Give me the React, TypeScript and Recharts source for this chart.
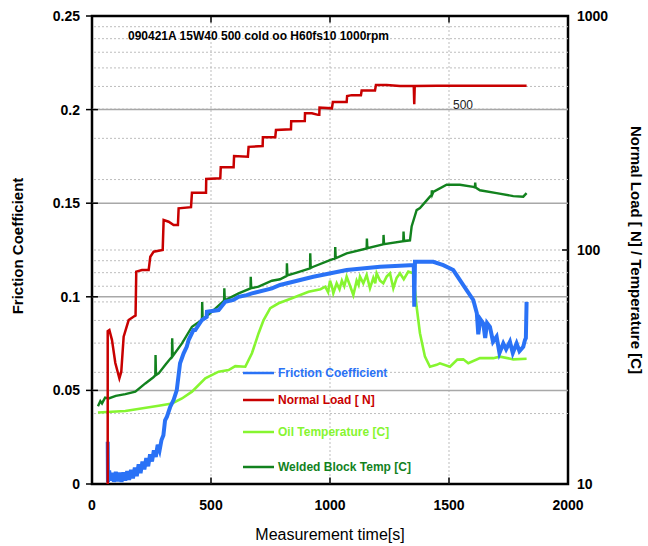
import React from 'react';
import { LineChart, Line, XAxis, YAxis, ReferenceLine, ReferenceArea } from 'recharts';

const FONT = '"Liberation Sans", Arial, Helvetica, sans-serif';

// axis ticks / grid
const timeTicks = [0, 500, 1000, 1500, 2000];
const frictionTicks = [0, 0.05, 0.1, 0.15, 0.2, 0.25];
const loadTicks = [10, 100, 1000];
const frictionGrid = [0.05, 0.1, 0.15, 0.2];
const logMinorGrid = [20, 30, 40, 50, 60, 70, 80, 90, 100, 200, 300, 400, 500, 600, 700, 800, 900];
const timeGrid = [500, 1000, 1500];

// series: [time s, value]
const frictionSeries: [number, number][] = [
  [66, 0.0226], [67, 0.001], [72, 0.0072], [78, 0.0018], [85, 0.006], [92, 0.0012],
  [100, 0.0065], [108, 0.0015], [116, 0.006], [124, 0.0012], [132, 0.0062], [140, 0.0018],
  [148, 0.0068], [156, 0.0022], [164, 0.0075], [172, 0.003], [180, 0.0088], [188, 0.0042],
  [196, 0.0105], [204, 0.0058], [212, 0.012], [220, 0.0078], [228, 0.0138], [236, 0.0095],
  [244, 0.0158], [252, 0.012], [260, 0.018], [268, 0.0145], [276, 0.021], [284, 0.018],
  [292, 0.0235], [300, 0.026], [307, 0.034], [315, 0.036], [328, 0.041], [343, 0.045],
  [356, 0.05], [370, 0.0645], [385, 0.0698], [398, 0.0733], [406, 0.0769], [426, 0.0822],
  [434, 0.0822], [462, 0.0876], [482, 0.0893], [483, 0.092], [532, 0.0929], [560, 0.0973],
  [594, 0.0983], [616, 0.1], [650, 0.1009], [672, 0.1018], [756, 0.1045], [790, 0.1063],
  [930, 0.1107], [1070, 0.1143], [1210, 0.116], [1336, 0.1169], [1352, 0.1169], [1354, 0.0947],
  [1357, 0.1187], [1434, 0.1187], [1476, 0.1169], [1518, 0.1143], [1546, 0.1089],
  [1574, 0.1036], [1602, 0.0983], [1617, 0.0912], [1623, 0.08], [1632, 0.088], [1644, 0.0858],
  [1652, 0.078], [1660, 0.086], [1672, 0.084], [1685, 0.076], [1700, 0.0787], [1712, 0.07],
  [1728, 0.0751], [1740, 0.072], [1756, 0.076], [1768, 0.07], [1784, 0.0751], [1796, 0.071],
  [1812, 0.0733], [1819, 0.0769], [1823, 0.078], [1826, 0.0973],
];

const loadSeries: [number, number][] = [
  [66, 10], [66, 45], [73, 45.5], [84, 41.2], [98, 32.9], [115, 28.3], [123, 30.2],
  [133, 42.6], [154, 50.2], [179, 52.2], [183, 52.5], [186, 80.8], [210, 82.1], [238, 82.1],
  [245, 93.6], [259, 98.3], [297, 100], [301, 134.4], [322, 132.1], [343, 127.9], [361, 127.9],
  [364, 150.7], [416, 152.4], [420, 175.8], [479, 175.8], [480, 201], [539, 202.5],
  [541, 225.6], [595, 225.6], [597, 252], [655, 250.5], [658, 276], [717, 278], [718, 303],
  [770, 303], [773, 326], [836, 328], [837, 355], [894, 356], [895, 384], [924, 384],
  [950, 378], [955, 378], [956, 406], [1008, 403], [1012, 429], [1070, 429], [1072, 455],
  [1091, 459], [1130, 459], [1133, 480], [1189, 480], [1193, 507], [1238, 507], [1294, 502],
  [1352, 502], [1354, 420], [1356, 502], [1450, 504], [1550, 504], [1650, 504], [1826, 504],
];

const oilTempSeries: [number, number][] = [
  [25, 20.2], [140, 20.5], [280, 21.6], [336, 22.1], [378, 23.2], [420, 24.8], [476, 28.3],
  [532, 30.2], [574, 30.7], [602, 31.9], [644, 31.7], [672, 36.2], [700, 44.1], [721, 50.2],
  [749, 56.4], [784, 59.2], [840, 62.2], [910, 66.3], [960, 68], [980, 69.7], [992, 66],
  [1000, 73.9], [1008, 70], [1014, 65.3], [1028, 72.1], [1040, 68], [1050, 74], [1060, 70],
  [1070, 76.9], [1085, 70], [1098, 64.2], [1112, 74], [1120, 71], [1126, 76.9], [1140, 72],
  [1154, 78.2], [1168, 68.6], [1182, 76], [1190, 72], [1196, 79.5], [1210, 74], [1224, 72.1],
  [1238, 77], [1252, 79.5], [1266, 68.6], [1280, 76], [1294, 79.5], [1310, 75], [1329, 80.8],
  [1350, 79.5], [1364, 57.2], [1378, 44.1], [1399, 35], [1420, 31.7], [1448, 32.3],
  [1462, 32.8], [1504, 31.7], [1535, 34], [1560, 34.1], [1581, 32.8], [1630, 34.5],
  [1686, 34.5], [1714, 35], [1770, 34.1], [1826, 34.3],
];

const blockTempSeries: [number, number][] = [
  [25, 21.5], [35, 22.6], [42, 22.1], [55, 23.4], [70, 23.2], [100, 23.8], [140, 24.2],
  [182, 24.8], [224, 26.9], [258, 28.6], [266, 29.1], [267, 35.6], [269, 29.2], [280, 29.7],
  [310, 32.5], [336, 35], [337, 42], [339, 35.2], [378, 39.9], [420, 47], [440, 48.5],
  [462, 50.2], [463, 60], [465, 50.4], [504, 54.5], [555, 60.8], [556, 68.6], [558, 61],
  [616, 65.3], [666, 68.5], [667, 76.9], [669, 68.7], [700, 69.7], [756, 73.9], [790, 75],
  [818, 77.5], [819, 87.7], [821, 77.8], [860, 80], [916, 83.5], [917, 96.8], [919, 83.8],
  [930, 84.8], [1000, 90.5], [1021, 92], [1022, 103], [1024, 92.2], [1070, 96.8],
  [1154, 101.5], [1155, 112], [1157, 101.8], [1210, 105], [1224, 105.8], [1225, 116],
  [1227, 106], [1308, 109], [1309, 120], [1311, 109.2], [1336, 110], [1343, 126], [1364, 148],
  [1378, 151], [1420, 169], [1427, 172], [1428, 180], [1430, 173], [1434, 177], [1490, 190],
  [1546, 190], [1602, 186], [1609, 185], [1610, 194], [1612, 185], [1630, 180], [1700, 175],
  [1770, 170], [1812, 169], [1826, 175],
];

const legendItems = [
  { name: 'Friction Coefficient', color: '#2a72f6' },
  { name: 'Normal Load [ N]', color: '#c80000' },
  { name: 'Oil Temperature [C]', color: '#86f530' },
  { name: 'Welded Block Temp [C]', color: '#12821e' },
];

const toRows = (pts: [number, number][]) => pts.map(([t, v]) => ({ t, v }));

const tickStyle = { fontSize: 14, fontWeight: 'bold', fill: '#000', fontFamily: FONT };

export default function App() {
  return (
    <div style={{ position: 'absolute', left: 0, top: 0, width: 648, height: 546, background: '#fff' }}>
      <LineChart width={648} height={546} margin={{ top: 16, right: 0, bottom: 0, left: 0 }}>
        <XAxis
          xAxisId="t"
          type="number"
          dataKey="t"
          domain={[0, 2000]}
          ticks={timeTicks}
          allowDataOverflow
          height={62}
          axisLine={false}
          tickLine={false}
          tickSize={6}
          tickMargin={10}
          tick={tickStyle}
          label={{
            content: ({ viewBox }: any) => (
              <text
                x={viewBox.x + viewBox.width / 2}
                y={viewBox.y + 56}
                textAnchor="middle"
                fontSize={16}
                fontFamily={FONT}
                fill="#000"
              >
                Measurement time[s]
              </text>
            ),
          }}
        />
        <YAxis
          yAxisId="left"
          width={92}
          domain={[0, 0.25]}
          ticks={frictionTicks}
          allowDataOverflow
          axisLine={false}
          tickLine={{ stroke: '#000', strokeWidth: 1.5 }}
          tickSize={6}
          tickMargin={6}
          tick={tickStyle}
          tickFormatter={(v: number) => String(v)}
          label={{
            content: () => (
              <text
                x={17}
                y={246}
                transform="rotate(-90 17 246)"
                textAnchor="middle"
                dominantBaseline="central"
                fontSize={15}
                fontWeight="bold"
                fontFamily={FONT}
                fill="#000"
              >
                Friction Coefficient
              </text>
            ),
          }}
        />
        <YAxis
          yAxisId="right"
          orientation="right"
          width={80}
          scale="log"
          domain={[10, 1000]}
          ticks={loadTicks}
          allowDataOverflow
          axisLine={false}
          tickLine={false}
          tickSize={6}
          tickMargin={3}
          tick={tickStyle}
          label={{
            content: () => (
              <text
                x={636}
                y={250}
                transform="rotate(90 636 250)"
                textAnchor="middle"
                dominantBaseline="central"
                fontSize={15}
                fontWeight="bold"
                fontFamily={FONT}
                fill="#000"
              >
                Normal Load [ N] / Temperature [C]
              </text>
            ),
          }}
        />

        {logMinorGrid.map((v) => (
          <ReferenceLine key={`lg-${v}`} xAxisId="t" yAxisId="right" y={v} stroke="#bdbdbd" strokeDasharray="2 2" />
        ))}
        {timeGrid.map((v) => (
          <ReferenceLine key={`tg-${v}`} xAxisId="t" yAxisId="left" x={v} stroke="#bdbdbd" strokeDasharray="2 2" />
        ))}
        {frictionGrid.map((v) => (
          <ReferenceLine key={`fg-${v}`} xAxisId="t" yAxisId="left" y={v} stroke="#a8a8a8" strokeWidth={1.5} />
        ))}

        {/* inward tick marks on the frame */}
        {timeGrid.map((v) => (
          <ReferenceLine
            key={`bt-${v}`}
            xAxisId="t"
            yAxisId="left"
            segment={[{ x: v, y: 0 }, { x: v, y: 0.0035 }]}
            stroke="#000"
            strokeWidth={1.5}
          />
        ))}
        {timeGrid.map((v) => (
          <ReferenceLine
            key={`tt-${v}`}
            xAxisId="t"
            yAxisId="left"
            segment={[{ x: v, y: 0.25 }, { x: v, y: 0.2465 }]}
            stroke="#000"
            strokeWidth={1.5}
          />
        ))}
        {frictionGrid.map((v) => (
          <ReferenceLine
            key={`lt-${v}`}
            xAxisId="t"
            yAxisId="left"
            segment={[{ x: 0, y: v }, { x: 25, y: v }]}
            stroke="#000"
            strokeWidth={1.5}
          />
        ))}
        <ReferenceLine
          xAxisId="t"
          yAxisId="right"
          segment={[{ x: 1975, y: 100 }, { x: 2000, y: 100 }]}
          stroke="#000"
          strokeWidth={1.5}
        />

        <Line
          xAxisId="t"
          yAxisId="right"
          data={toRows(oilTempSeries)}
          dataKey="v"
          stroke={legendItems[2].color}
          strokeWidth={2.6}
          dot={false}
          activeDot={false}
          isAnimationActive={false}
        />
        <Line
          xAxisId="t"
          yAxisId="right"
          data={toRows(blockTempSeries)}
          dataKey="v"
          stroke={legendItems[3].color}
          strokeWidth={2.4}
          dot={false}
          activeDot={false}
          isAnimationActive={false}
        />
        <Line
          xAxisId="t"
          yAxisId="left"
          data={toRows(frictionSeries)}
          dataKey="v"
          stroke={legendItems[0].color}
          strokeWidth={4}
          dot={false}
          activeDot={false}
          isAnimationActive={false}
        />
        <Line
          xAxisId="t"
          yAxisId="right"
          data={toRows(loadSeries)}
          dataKey="v"
          stroke={legendItems[1].color}
          strokeWidth={2.5}
          dot={false}
          activeDot={false}
          isAnimationActive={false}
        />

        <ReferenceArea
          xAxisId="t"
          yAxisId="left"
          x1={0}
          x2={2000}
          y1={0}
          y2={0.25}
          fill="none"
          stroke="#000"
          strokeWidth={2.5}
          ifOverflow="visible"
        />
      </LineChart>

      <svg
        width={648}
        height={546}
        style={{ position: 'absolute', left: 0, top: 0, pointerEvents: 'none' }}
        fontFamily={FONT}
      >
        <text x={128} y={39.5} fontSize={12} fontWeight="bold" fill="#000">
          090421A 15W40 500 cold oo H60fs10 1000rpm
        </text>
        <text x={453} y={109} fontSize={12} fill="#222">
          500
        </text>
        {legendItems.map((item, i) => {
          const cy = [373, 400, 432, 467][i];
          return (
            <g key={item.name}>
              <line x1={243} x2={274} y1={cy} y2={cy} stroke={item.color} strokeWidth={2.5} />
              <text x={278} y={cy + 4.3} fontSize={12} fontWeight="bold" fill={item.color}>
                {item.name}
              </text>
            </g>
          );
        })}
      </svg>
    </div>
  );
}
